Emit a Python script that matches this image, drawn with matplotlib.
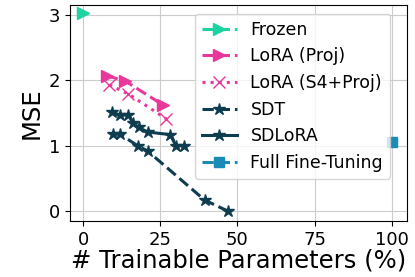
import numpy as np
import matplotlib.pyplot as plt

# data
frozen_x = [0.0]
frozen_y = [3.03]
lora_proj_x = [7.7, 13.6, 26.0]
lora_proj_y = [2.07, 1.99, 1.62]
lora_s4_x = [8.5, 14.7, 27.0]
lora_s4_y = [1.93, 1.79, 1.41]
sdt_x = [9.8, 11.8, 17.7, 20.9, 39.4, 47.0]
sdt_y = [1.18, 1.18, 1.00, 0.92, 0.17, 0.0]
sdlora_x = [9.5, 11.8, 14.7, 16.1, 18.0, 20.9, 28.2, 30.1, 32.8]
sdlora_y = [1.51, 1.47, 1.47, 1.35, 1.28, 1.21, 1.17, 1.00, 1.00]
fft_x = [100.0]
fft_y = [1.05]

fig = plt.figure(figsize=(4.15, 2.77), dpi=100)
ax = fig.add_axes([0.169, 0.202, 0.812, 0.78])

ax.plot(frozen_x, frozen_y, '--', marker='>', color='#1dd3a2', lw=2.2, ms=9, label='Frozen')
ax.plot(lora_proj_x, lora_proj_y, '--', marker='>', color='#e8389c', lw=2.2, ms=9, label='LoRA (Proj)')
ax.plot(lora_s4_x, lora_s4_y, ':', marker='x', color='#e8389c', lw=2.2, ms=9, label='LoRA (S4+Proj)')
ax.plot(sdt_x, sdt_y, '--', marker='*', color='#0f3d50', lw=2.2, ms=9, label='SDT')
ax.plot(sdlora_x, sdlora_y, '-', marker='*', color='#0f3d50', lw=2.2, ms=9, label='SDLoRA')
ax.plot(fft_x, fft_y, '--', marker='s', color='#1a8ab6', lw=2.2, ms=7, label='Full Fine-Tuning')

ax.set_xlim(-4.2, 105)
ax.set_ylim(-0.15, 3.15)
ax.set_xticks([0, 25, 50, 75, 100])
ax.set_yticks([0, 1, 2, 3])
ax.tick_params(labelsize=13)
ax.set_xlabel('# Trainable Parameters (%)', fontsize=17.5, labelpad=0)
ax.set_ylabel('MSE', fontsize=17.5)
ax.grid(True, color='#cccccc')
ax.legend(loc='upper right', fontsize=12.5, bbox_to_anchor=(0.975, 1.0))

plt.savefig('out.png')
